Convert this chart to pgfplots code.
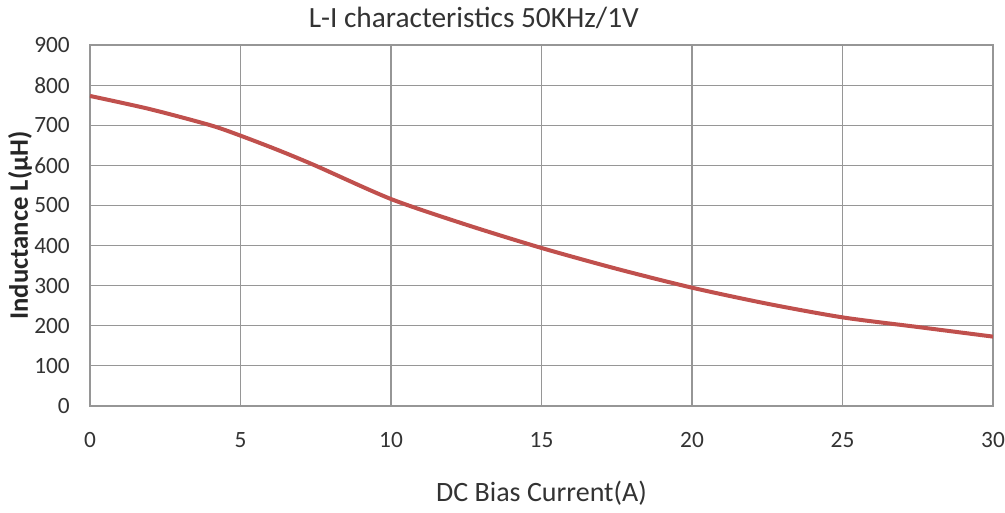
\documentclass[border=0pt]{standalone}
\usepackage{fontspec}
\setmainfont{Carlito}
\usepackage{pgfplots}
\pgfplotsset{compat=1.18}
\definecolor{curvered}{HTML}{C0504D}
\definecolor{gridgray}{RGB}{150,150,150}

\begin{document}
\begin{tikzpicture}[x=0.75pt,y=0.75pt]
  % page = 1005 x 512 px, axis box at 90..993 x 45..406
  \path[use as bounding box] (-90,-106) rectangle (915,406);
  \begin{axis}[
      scale only axis,
      width=677.25pt, height=270.75pt,
      xmin=0, xmax=30, ymin=0, ymax=900,
      xtick={0,5,...,30}, ytick={0,100,...,900},
      grid=major,
      major grid style={gridgray, line width=0.8pt},
      axis line style={gridgray, line width=0.8pt},
      tick style={draw=none},
      /pgf/number format/assume math mode=true,
      ticklabel style={font=\fontsize{17.5}{20}\selectfont, text=black!80, inner sep=0pt},
      xticklabel style={anchor=center, yshift=-25.5pt},
      yticklabel style={anchor=east, xshift=-15pt},
      title={L-I characteristics 50KHz/1V},
      title style={font=\fontsize{22}{25}\selectfont, text=black!80,
        at={(axis description cs:0.425,1.053)}, anchor=center},
      xlabel={DC Bias Current(A)},
      xlabel style={font=\fontsize{21}{24}\selectfont, text=black!80,
        at={(axis description cs:0.5,-0.241)}, anchor=center},
      ylabel={Inductance L(µH)},
      ylabel style={font=\bfseries\fontsize{20}{23}\selectfont, text=black!85,
        at={(axis description cs:-0.0775,0.5)}, anchor=center},
    ]
    \addplot[curvered, line width=3pt, smooth, tension=0.45] coordinates {
      (0,773) (2,740) (4,700) (5,674) (6.25,638) (7.5,599) (10,516)
      (12.5,452) (15,394) (17.5,342) (20,295) (22.5,255) (25,221)
      (27.5,197) (30,173)
    };
  \end{axis}
\end{tikzpicture}
\end{document}
